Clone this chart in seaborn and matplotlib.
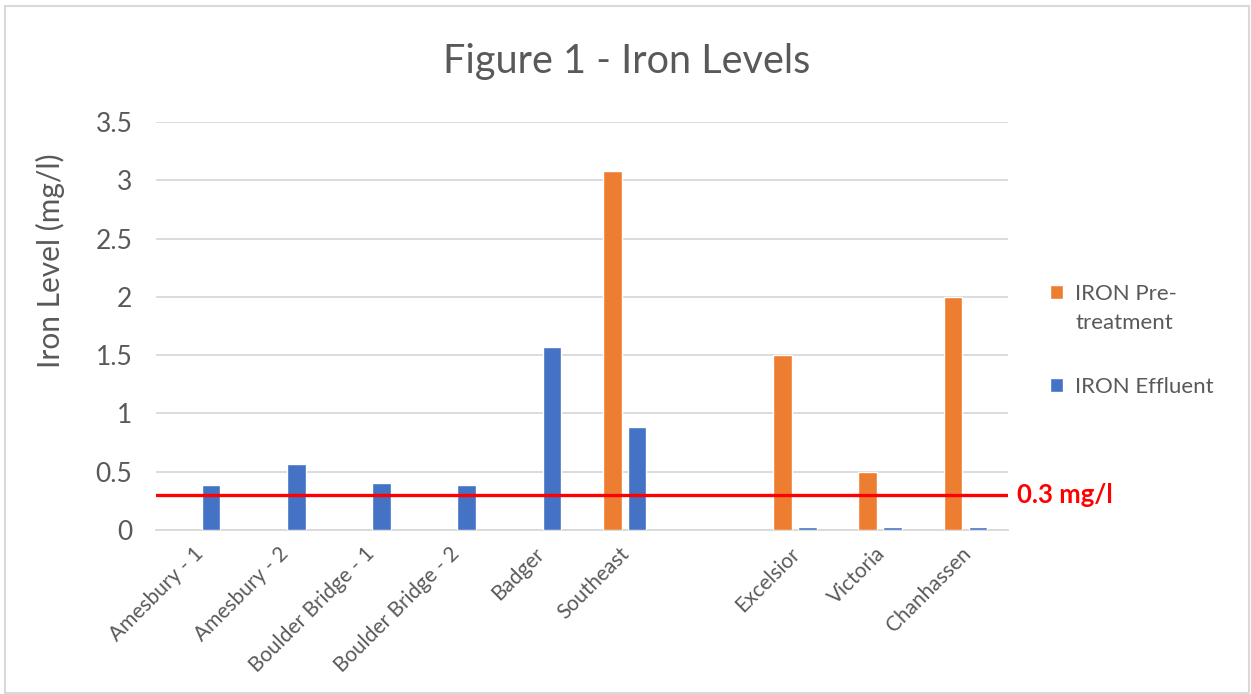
import matplotlib
matplotlib.use("Agg")
import matplotlib.pyplot as plt
from matplotlib.ticker import FuncFormatter, MultipleLocator
from matplotlib.patches import Rectangle
from matplotlib.transforms import ScaledTranslation
import numpy as np
import pandas as pd
import seaborn as sns

# Sampling sites (a blank slot separates the two groups of sites)
sites = ["Amesbury - 1", "Amesbury - 2", "Boulder Bridge - 1", "Boulder Bridge - 2",
         "Badger", "Southeast", " ", "Excelsior", "Victoria", "Chanhassen"]

pre_sites = ["Southeast", "Excelsior", "Victoria", "Chanhassen"]
pre_values = [3.08, 1.5, 0.5, 2.0]

eff_sites = ["Amesbury - 1", "Amesbury - 2", "Boulder Bridge - 1", "Boulder Bridge - 2",
             "Badger", "Southeast", "Excelsior", "Victoria", "Chanhassen"]
eff_values = [0.39, 0.57, 0.40, 0.39, 1.57, 0.88, 0.03, 0.03, 0.03]

series_names = ["IRON Pre-\ntreatment", "IRON Effluent"]
series_colors = ["#ED7D31", "#4472C4"]

limit_value = 0.3
limit_label = "0.3 mg/l"

df = pd.concat([
    pd.DataFrame({"site": pre_sites, "series": series_names[0], "value": pre_values}),
    pd.DataFrame({"site": eff_sites, "series": series_names[1], "value": eff_values}),
], ignore_index=True)

sns.set_theme(style="white")
plt.rcParams["font.family"] = ["Lato", "DejaVu Sans"]
text_gray = "#595959"
grid_gray = "#D9D9D9"

fig = plt.figure(figsize=(12.51, 6.94), dpi=100)
ax = fig.add_axes([0.1247, 0.2363, 0.6811, 0.5879])

sns.barplot(data=df, x="site", y="value", hue="series", order=sites,
            hue_order=series_names, palette=series_colors, width=0.585, gap=0.25,
            saturation=1, errorbar=None, ax=ax)

ax.set_ylim(0, 3.5)
ax.set_xlim(-0.5, len(sites) - 0.5)
ax.yaxis.set_major_locator(MultipleLocator(0.5))
ax.yaxis.set_major_formatter(FuncFormatter(lambda v, p: f"{v:g}"))
ax.grid(axis="y", color=grid_gray, linewidth=1.3)
ax.set_axisbelow(True)
for side in ["left", "right", "top"]:
    ax.spines[side].set_visible(False)
ax.spines["bottom"].set_color(grid_gray)
ax.spines["bottom"].set_linewidth(1.3)
ax.spines["bottom"].set_zorder(0.5)
ax.tick_params(axis="both", length=0)
ax.tick_params(axis="y", labelsize=19, labelcolor=text_gray, pad=17)
ax.tick_params(axis="x", labelsize=15, labelcolor=text_gray, pad=15)
shift = ScaledTranslation(2 / 100, 0, fig.dpi_scale_trans)
for lbl in ax.get_xticklabels():
    lbl.set_rotation(45)
    lbl.set_ha("right")
    lbl.set_va("center")
    lbl.set_rotation_mode("anchor")
    lbl.set_transform(lbl.get_transform() + shift)

ax.set_xlabel("")
ax.set_ylabel("Iron Level (mg/l)", fontsize=21.5, color=text_gray)
ax.yaxis.set_label_coords(-0.107, 0.659)

# Threshold line and its label
ax.axhline(limit_value, color="#FF0000", linewidth=2.4, zorder=3)
ax.annotate(limit_label, xy=(1.0, limit_value), xycoords=("axes fraction", "data"),
            xytext=(6.5, 0), textcoords="offset points", va="center", ha="left",
            fontsize=18.5, fontweight="bold", color="#FF0000", annotation_clip=False)

fig.text(0.5008, 1 - 73 / 694, "Figure 1 - Iron Levels", ha="center", va="baseline",
         fontsize=28.5, color=text_gray)

sns.move_legend(ax, loc="upper left", bbox_to_anchor=(0.823, 0.62),
                bbox_transform=fig.transFigure, frameon=False, title=None,
                fontsize=16, handlelength=0.6, handleheight=0.6, handletextpad=0.55,
                labelspacing=2.0, labelcolor=text_gray)
leg = ax.get_legend()
for t in leg.get_texts():
    t.set_linespacing(1.55)
# square for the two-line entry sits beside its first line
first = leg.legend_handles[0]
first.set_y(first.get_y() + 11.5)

# Chart-area border
fig.patches.append(Rectangle((5 / 1251, 1 / 694), 1244 / 1251, 687 / 694,
                             transform=fig.transFigure, fill=False,
                             edgecolor=grid_gray, linewidth=1.5))

fig.savefig("out.png", dpi=100)
